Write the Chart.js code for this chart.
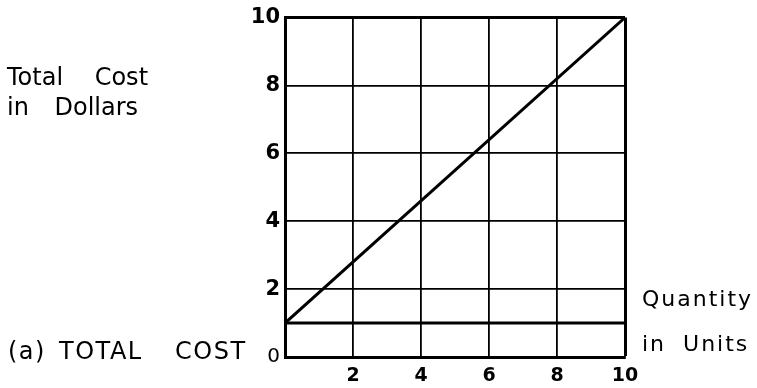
<!DOCTYPE html>
<html>
<head>
<meta charset="utf-8">
<script src="https://cdn.jsdelivr.net/npm/chart.js@4.4.0/dist/chart.umd.min.js"></script>
<style>
  body { margin: 0; background: #fff; }
  #wrap { position: relative; width: 757px; height: 388px; }
  #c { position: absolute; left: 0; top: 0; }
  .lbl { position: absolute; font-family: "DejaVu Sans", sans-serif; font-size: 24px; line-height: 24px; color: #000; white-space: nowrap; }
</style>
</head>
<body>
<div id="wrap">
  <canvas id="c" width="757" height="388"></canvas>
  <div class="lbl" style="left:7px;top:65px;word-spacing:24px">Total Cost</div>
  <div class="lbl" style="left:7px;top:95px;word-spacing:18px">in Dollars</div>
  <div class="lbl" style="left:8px;top:339px;letter-spacing:1.5px;word-spacing:4px">(a) TOTAL</div>
  <div class="lbl" style="left:175px;top:339px;letter-spacing:1.5px">COST</div>
  <div class="lbl" style="left:642px;top:288px;font-size:22px;line-height:22px;letter-spacing:2px">Quantity</div>
  <div class="lbl" style="left:642px;top:333px;font-size:22px;line-height:22px;letter-spacing:2px;word-spacing:8px">in Units</div>
</div>
<script>
// total cost line: starts at fixed cost 1, reaches 10 at 10 units
const quantity = [0, 10];
const totalCost = [1, 10];
const fixedCost = [1, 1];
const xTicks = [2, 4, 6, 8, 10];
const yTicks = [0, 2, 4, 6, 8, 10];

const toPoints = (xs, ys) => xs.map((x, i) => ({ x: x, y: ys[i] }));
const isOrigin = c => c.tick && c.tick.value === 0;

new Chart(document.getElementById('c'), {
  type: 'scatter',
  data: {
    datasets: [
      {
        data: toPoints(quantity, totalCost),
        showLine: true,
        borderColor: '#000',
        borderWidth: 3,
        pointRadius: 0
      },
      {
        data: toPoints(quantity, fixedCost),
        showLine: true,
        borderColor: '#000',
        borderWidth: 3,
        pointRadius: 0
      }
    ]
  },
  options: {
    responsive: false,
    animation: false,
    layout: { padding: { left: 0, top: 17, right: 132, bottom: 0 } },
    plugins: { legend: { display: false }, tooltip: { enabled: false } },
    scales: {
      x: {
        type: 'linear',
        min: 0,
        max: 10,
        afterFit: s => { s.height = 31; },
        afterBuildTicks: s => { s.ticks = [0].concat(xTicks).map(v => ({ value: v })); },
        ticks: {
          color: '#000',
          padding: 8,
          maxRotation: 0,
          font: { family: 'DejaVu Sans', size: 19, weight: 'bold' },
          callback: v => xTicks.includes(v) ? String(v) : ''
        },
        grid: {
          color: '#000',
          drawTicks: false,
          lineWidth: c => c.tick && c.tick.value === 10 ? 3 : 1.8
        },
        border: { display: true, color: '#000', width: 3 }
      },
      y: {
        type: 'linear',
        min: 0,
        max: 10,
        afterFit: s => { s.width = 285; },
        afterBuildTicks: s => { s.ticks = yTicks.map(v => ({ value: v })); },
        ticks: {
          color: '#000',
          padding: 5,
          font: {
            family: 'DejaVu Sans',
            size: c => isOrigin(c) ? 20 : 21,
            weight: c => isOrigin(c) ? 'normal' : 'bold'
          },
          callback: v => String(v)
        },
        grid: {
          color: '#000',
          drawTicks: false,
          lineWidth: c => c.tick && c.tick.value === 10 ? 3 : 1.8
        },
        border: { display: true, color: '#000', width: 3 }
      }
    }
  }
});
</script>
</body>
</html>
